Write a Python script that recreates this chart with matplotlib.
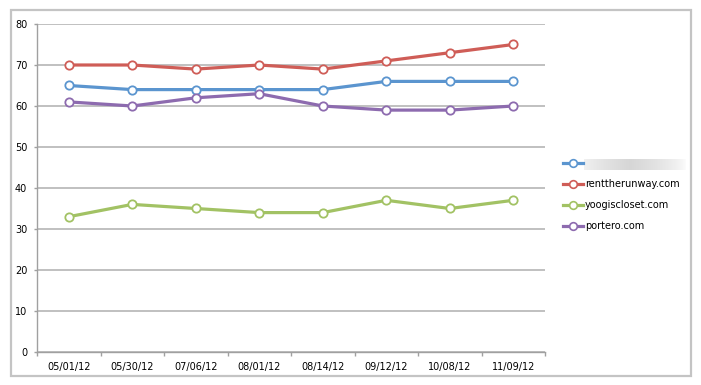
import numpy as np
import matplotlib
matplotlib.use('Agg')
import matplotlib.pyplot as plt
from matplotlib.patches import Rectangle
from matplotlib.lines import Line2D

dates = ['05/01/12', '05/30/12', '07/06/12', '08/01/12', '08/14/12', '09/12/12', '10/08/12', '11/09/12']
hidden_site = [65, 64, 64, 64, 64, 66, 66, 66]
renttherunway = [70, 70, 69, 70, 69, 71, 73, 75]
yoogiscloset = [33, 36, 35, 34, 34, 37, 35, 37]
portero = [61, 60, 62, 63, 60, 59, 59, 60]

series = [('', hidden_site, '#5B95CF'),
          ('renttherunway.com', renttherunway, '#CF5D57'),
          ('yoogiscloset.com', yoogiscloset, '#A2C264'),
          ('portero.com', portero, '#8D6BAF')]

W, H = 701, 385
fig = plt.figure(figsize=(W / 100, H / 100), dpi=100)
fig.patch.set_facecolor('white')

# outer chart border
fig.add_artist(Rectangle((11 / W, 1 - 376 / H), 680 / W, 366 / H, transform=fig.transFigure,
                         fill=False, edgecolor='#C4C4C4', linewidth=1.6))

ax = fig.add_axes([37 / W, 1 - 352 / H, 508 / W, 328 / H])
x = np.arange(len(dates))
for label, vals, col in series:
    ax.plot(x, vals, color=col, linewidth=2.3, marker='o', markersize=6,
            markerfacecolor='white', markeredgecolor=col, markeredgewidth=1.3, zorder=3)

ax.set_xlim(-0.5, len(dates) - 0.5)
ax.set_ylim(0, 80)
ax.set_yticks(range(0, 81, 10))
ax.set_xticks(x)
ax.set_xticklabels(dates)
ax.set_xticks(np.arange(-0.5, len(dates), 1), minor=True)
ax.tick_params(axis='x', which='major', length=0, pad=7, labelsize=7)
ax.tick_params(axis='x', which='minor', length=3, color='#A0A0A0', width=1)
ax.tick_params(axis='y', length=2, color='#A0A0A0', width=1, labelsize=7, pad=5)
ax.grid(axis='y', color='#C0C0C0', linewidth=1.4, zorder=0)
for s in ['top', 'right']:
    ax.spines[s].set_visible(False)
for s in ['left', 'bottom']:
    ax.spines[s].set_color('#A0A0A0')
    ax.spines[s].set_linewidth(1)

# legend drawn manually
for i, (label, vals, col) in enumerate(series):
    yy = 1 - (163 + 21 * i) / H
    fig.add_artist(Line2D([563 / W, 583 / W], [yy, yy], transform=fig.transFigure,
                          color=col, linewidth=2.3))
    fig.add_artist(Line2D([573 / W], [yy], transform=fig.transFigure, marker='o',
                          markersize=5.5, markerfacecolor='white', markeredgecolor=col,
                          markeredgewidth=1.2))
    if label:
        fig.text(585 / W, yy, label, fontsize=7, va='center', ha='left', color='black')

# blurred (redacted) first legend label
grad = np.linspace(0, 1, 100)
alpha = np.clip(1 - np.abs(grad - 0.45) / 0.55, 0, 1) ** 0.6
img = np.ones((1, 100, 4))
img[..., :3] = 0.84
img[0, :, 3] = alpha
ax_blur = fig.add_axes([584 / W, 1 - 170 / H, 103 / W, 11 / H])
ax_blur.imshow(img, aspect='auto', interpolation='bilinear')
ax_blur.axis('off')

fig.savefig('out.png', dpi=100)
